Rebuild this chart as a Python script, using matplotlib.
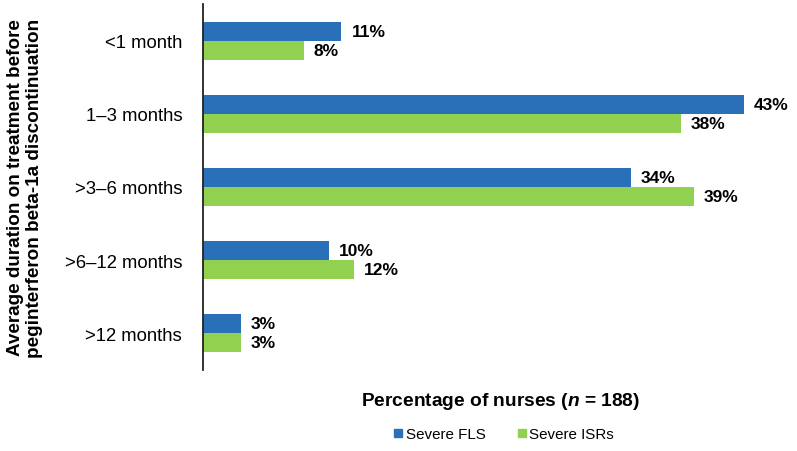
import numpy as np
import matplotlib
matplotlib.use("Agg")
import matplotlib.pyplot as plt
from matplotlib.lines import Line2D

plt.rcParams['font.family'] = ['Liberation Sans', 'DejaVu Sans']
plt.rcParams['mathtext.fontset'] = 'custom'
plt.rcParams['mathtext.it'] = 'Liberation Sans:italic:bold'
plt.rcParams['mathtext.rm'] = 'Liberation Sans:bold'

# === Data ===
categories = ["<1 month", "1\u20133 months", ">3\u20136 months", ">6\u201312 months", ">12 months"]
severe_fls = [11, 43, 34, 10, 3]
severe_isrs = [8, 38, 39, 12, 3]
series_names = ["Severe FLS", "Severe ISRs"]
blue = '#2a70b9'
green = '#92d050'

fig = plt.figure(figsize=(7.97, 4.52), dpi=100)
ax = fig.add_axes([203/797, 81/452, (790-203)/797, 366/452])

y = np.arange(len(categories))
h = 0.26
ax.barh(y - h/2, severe_fls, height=h, color=blue)
ax.barh(y + h/2, severe_isrs, height=h, color=green)

# value labels next to bar ends
for yi, v in zip(y, severe_fls):
    ax.text(v + 0.8, yi - h/2, f"{v}%", va='center', ha='left', fontsize=12.5, fontweight='bold')
for yi, v in zip(y, severe_isrs):
    ax.text(v + 0.8, yi + h/2, f"{v}%", va='center', ha='left', fontsize=12.5, fontweight='bold')

ax.set_ylim(len(categories) - 0.5, -0.5)
ax.set_xlim(0, (790-203)/12.58)
ax.set_yticks(y)
ax.set_yticklabels(categories, fontsize=13.3)
ax.tick_params(axis='y', length=0, pad=15)
ax.tick_params(axis='x', length=0, labelbottom=False)
for s in ['top', 'right', 'bottom']:
    ax.spines[s].set_visible(False)
ax.spines['left'].set_color('#222222')
ax.spines['left'].set_linewidth(1.3)

fig.text(25/797, 1 - 188/452, "Average duration on treatment before\npeginterferon beta-1a discontinuation",
         rotation=90, ha='center', va='center', fontsize=13.6, fontweight='bold', linespacing=1.1)

fig.text(501/797, 1 - 402/452, r"Percentage of nurses ($n$ = 188)",
         ha='center', va='center', fontsize=13.8, fontweight='bold')

handles = [Line2D([], [], marker='s', linestyle='none', color=blue, markersize=6),
           Line2D([], [], marker='s', linestyle='none', color=green, markersize=6)]
fig.legend(handles, series_names, loc='center', bbox_to_anchor=(503/797, 1 - 435/452),
           ncol=2, frameon=False, fontsize=10.9, handletextpad=0.1, columnspacing=2.0,
           handlelength=0.8)

fig.savefig("out.png", dpi=100)
